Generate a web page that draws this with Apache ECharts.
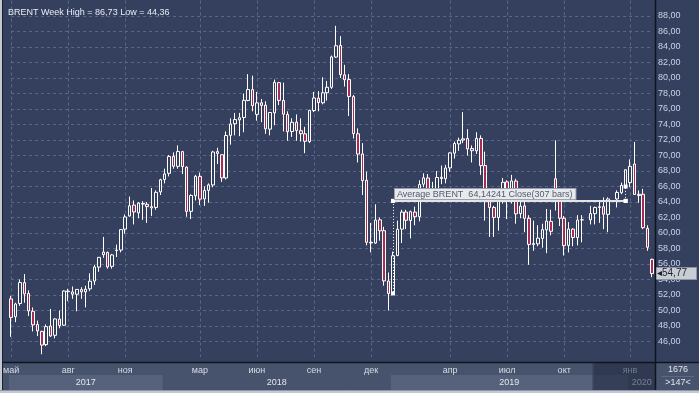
<!DOCTYPE html>
<html><head><meta charset="utf-8">
<script src="https://cdn.jsdelivr.net/npm/echarts@6/dist/echarts.min.js"></script>
<style>html,body{margin:0;padding:0;background:#34405d;}#c{width:699px;height:393px;}</style>
</head><body><div id="c"></div>
<script>
// ---- data (weekly bars, week start dates) ----
const weeks = [
'2017-05-01','2017-05-08','2017-05-15','2017-05-22','2017-05-29','2017-06-05','2017-06-12','2017-06-19','2017-06-26','2017-07-03',
'2017-07-10','2017-07-17','2017-07-24','2017-07-31','2017-08-07','2017-08-14','2017-08-21','2017-08-28','2017-09-04','2017-09-11',
'2017-09-18','2017-09-25','2017-10-02','2017-10-09','2017-10-16','2017-10-23','2017-10-30','2017-11-06','2017-11-13','2017-11-20',
'2017-11-27','2017-12-04','2017-12-11','2017-12-18','2017-12-25',
'2018-01-01','2018-01-08','2018-01-15','2018-01-22','2018-01-29','2018-02-05','2018-02-12','2018-02-19','2018-02-26','2018-03-05',
'2018-03-12','2018-03-19','2018-03-26','2018-04-02','2018-04-09','2018-04-16','2018-04-23','2018-04-30','2018-05-07','2018-05-14',
'2018-05-21','2018-05-28','2018-06-04','2018-06-11','2018-06-18','2018-06-25','2018-07-02','2018-07-09','2018-07-16','2018-07-23',
'2018-07-30','2018-08-06','2018-08-13','2018-08-20','2018-08-27','2018-09-03','2018-09-10','2018-09-17','2018-09-24','2018-10-01',
'2018-10-08','2018-10-15','2018-10-22','2018-10-29','2018-11-05','2018-11-12','2018-11-19','2018-11-26','2018-12-03','2018-12-10',
'2018-12-17','2018-12-24','2018-12-31',
'2019-01-07','2019-01-14','2019-01-21','2019-01-28','2019-02-04','2019-02-11','2019-02-18','2019-02-25','2019-03-04','2019-03-11',
'2019-03-18','2019-03-25','2019-04-01','2019-04-08','2019-04-15','2019-04-22','2019-04-29','2019-05-06','2019-05-13','2019-05-20',
'2019-05-27','2019-06-03','2019-06-10','2019-06-17','2019-06-24','2019-07-01','2019-07-08','2019-07-15','2019-07-22','2019-07-29',
'2019-08-05','2019-08-12','2019-08-19','2019-08-26','2019-09-02','2019-09-09','2019-09-16','2019-09-23','2019-09-30','2019-10-07',
'2019-10-14','2019-10-21','2019-10-28','2019-11-04','2019-11-11','2019-11-18','2019-11-25','2019-12-02','2019-12-09','2019-12-16',
'2019-12-23','2019-12-30',
'2020-01-06','2020-01-13','2020-01-20','2020-01-27','2020-02-03'
];
const opens = [
51.5,49.2,50.9,53.6,52.2,49.9,48.2,47.3,45.6,48.0, 46.8,48.9,48.1,52.5,52.4,52.1,52.7,52.4,52.8,53.8,
55.6,57.2,57.5,55.7,57.8,57.8,60.5,62.2,63.6,62.6, 63.8,63.7,63.4,63.3,65.3,
66.9,67.7,69.9,68.6,70.5,68.5,62.8,64.8,67.3,64.4, 65.5,66.2,70.5,70.1,67.1,72.6,74.1,74.6,74.9,77.1,
78.5,75.3,76.8,76.5,73.4,75.5,79.4,77.1,75.3,73.1, 74.3,73.2,72.8,71.8,75.8,77.4,76.8,78.1,78.8,82.7,
84.2,80.4,79.8,77.6,72.8,70.2,66.8,58.8,58.7,61.7, 60.3,53.8,52.2,
57.1,60.5,62.7,61.6,62.7,62.1,66.3,67.1,65.1,65.7, 67.2,67.0,68.4,70.3,71.5,72.0,72.2,70.9,70.6,72.2,
68.7,64.5,63.3,62.0,65.2,66.6,64.2,66.7,62.5,63.5, 61.9,58.5,58.6,59.3,60.4,61.5,67.0,64.3,61.9,58.4,
60.5,59.4,61.7,61.7,62.5,63.3,63.4,62.4,64.4,65.2, 66.1,66.5,
68.9,65.0,65.0,60.6,56.6
];
const highs = [
51.9,51.0,54.0,54.7,52.6,50.4,48.7,47.4,48.2,50.2, 49.0,50.0,52.6,52.8,53.1,52.7,53.0,53.2,54.8,55.9,
56.9,59.5,57.6,57.3,58.5,60.5,62.4,64.7,64.2,64.0, 64.1,64.0,65.8,65.5,67.0,
68.3,70.05,70.4,71.3,70.6,68.6,65.0,67.5,67.8,66.0, 66.4,70.6,71.0,70.1,73.1,74.8,75.5,75.5,78.0,80.5,
80.3,78.2,77.3,77.0,75.6,79.8,79.5,79.4,75.7,74.8, 75.3,74.8,73.7,75.9,78.2,78.3,80.1,79.6,82.9,86.73,
85.4,81.7,80.5,77.8,73.5,71.6,67.9,61.3,63.7,62.0, 60.8,54.9,57.6,
61.6,63.0,63.0,62.9,63.4,66.8,67.7,67.6,66.6,68.0, 68.7,68.8,70.4,71.8,72.3,75.6,73.4,71.3,73.0,72.6,
70.5,64.6,63.5,65.5,67.1,66.8,67.5,67.0,64.4,65.5, 62.3,61.6,61.0,61.2,63.1,63.0,71.95,65.0,62.2,61.4,
60.6,62.3,62.3,63.5,63.4,64.2,64.6,64.6,65.5,66.5, 68.2,69.5,
71.75,65.5,65.7,61.0,56.7
];
const lows = [
46.6,48.5,50.6,51.0,49.3,47.3,46.7,44.36,45.4,46.6, 46.4,47.7,48.0,51.2,51.5,49.9,51.5,50.4,52.5,53.3,
55.0,56.8,55.4,55.4,56.9,57.5,59.9,62.1,61.1,61.9, 61.7,61.3,62.2,63.0,64.9,
66.4,67.3,68.3,68.3,67.6,62.1,61.8,64.2,63.6,63.5, 63.9,65.9,68.9,66.6,66.9,71.4,72.6,72.5,73.0,77.0,
75.7,74.5,74.3,72.8,72.6,73.9,76.5,73.1,71.9,72.4, 71.9,71.8,70.3,71.6,75.6,75.7,76.6,77.1,78.6,82.6,
80.0,78.9,75.1,72.2,69.1,64.9,58.4,57.5,58.6,59.0, 53.2,50.0,52.0,
57.0,58.7,60.5,59.3,61.0,61.5,65.9,64.4,64.6,65.5, 66.3,66.4,67.9,69.6,70.6,71.6,70.0,69.1,70.2,67.5,
61.6,59.5,59.5,60.3,63.8,61.8,63.8,61.2,61.9,60.1, 55.9,57.7,58.3,58.1,57.4,59.7,62.9,60.9,57.1,57.5,
58.3,58.4,58.8,61.1,61.1,61.3,60.5,60.1,63.3,65.0, 65.9,65.9,
64.9,63.9,60.5,57.7,54.3
];
const closes = [
49.10,50.84,53.61,52.15,49.95,48.15,47.37,45.54,47.92,46.71, 48.91,48.06,52.52,52.42,52.10,52.72,52.41,52.75,53.78,55.62,
56.86,57.54,55.62,57.17,57.75,60.44,62.07,63.52,62.72,63.86, 63.73,63.40,63.23,65.25,66.87,
67.62,69.87,68.61,70.52,68.58,62.79,64.84,67.31,64.37,65.49, 66.21,70.45,70.27,67.11,72.58,74.06,74.64,74.87,77.12,78.51,
76.44,76.79,76.46,73.44,75.55,79.44,77.11,75.33,73.07,74.29, 73.21,72.81,71.83,75.82,77.42,76.83,78.09,78.80,82.72,84.16,
80.43,79.78,77.62,72.83,70.18,66.76,58.80,58.71,61.67,60.28, 53.82,52.20,57.06,
60.48,62.70,61.64,62.75,62.10,66.25,67.12,65.07,65.74,67.16, 67.03,68.39,70.34,71.55,71.97,72.15,70.85,70.62,72.21,68.69,
64.49,63.29,62.01,65.20,66.55,64.23,66.72,62.47,63.46,61.89, 58.53,58.64,59.34,60.43,61.54,60.22,64.28,61.91,58.37,60.51,
59.42,61.67,61.69,62.51,63.30,63.39,62.43,64.39,65.22,66.14, 68.16,68.60,
64.98,64.85,60.69,58.16,54.77
];
// the reference axis carries two more bar slots in Q4 2019 than calendar weeks; keep them as empty slots
const gapAfterWeeks = ['2019-10-28', '2019-12-02'];
// axis ticks / labels
const monthTickWeeks  = ['2017-05-01','2017-07-31','2017-10-30','2018-02-26','2018-05-28','2018-08-27','2018-11-26','2019-04-01','2019-07-01','2019-09-30','2019-12-30'];
const monthTickLabels = ['май','авг','ноя','мар','июн','сен','дек','апр','июл','окт','янв'];
const yearStartWeeks  = ['2017-05-01','2018-01-01','2018-12-31','2019-12-30'];
const yearLabels      = ['2017','2018','2019','2020'];
const titleText = 'BRENT Week High = 86,73 Low = 44,36';
const avgValue = 64.14241, avgBars = 307;
const avgStartWeek = '2018-12-31', avgStartPrice = 52.20;
const avgEndWeek = '2019-12-23', avgEndPrice = 66.0;
const lastPrice = 54.77;
const overlayStartWeek = '2019-11-11';
const infoTop = '1676', infoBottom = '>147<';

// ---- chart ----
const BG = '#34405e', GRID = '#5a668a', FONT = '"Liberation Sans", Arial, sans-serif';
const fmt = v => v.toFixed(2).replace('.', ',');
const monthSet = new Set(monthTickWeeks);
const slots = [], candles = [];
weeks.forEach((w, i) => {
  slots.push(w); candles.push([opens[i], closes[i], lows[i], highs[i]]);
  if (gapAfterWeeks.includes(w)) { slots.push('gap ' + w); candles.push('-'); }
});
const chart = echarts.init(document.getElementById('c'), null, {width: 699, height: 393});
chart.setOption({
  backgroundColor: BG,
  animation: false,
  textStyle: {fontFamily: FONT},
  title: {text: titleText, left: 3, top: 3, textStyle: {color: '#e8ecf3', fontSize: 9, fontWeight: 'normal', fontFamily: FONT}},
  grid: {left: 3, right: 47, top: 0.5, bottom: 36},
  xAxis: {
    type: 'category', data: slots, boundaryGap: false,
    axisLine: {show: false}, axisTick: {show: false},
    axisLabel: {interval: (i, v) => monthSet.has(v), formatter: v => monthTickLabels[monthTickWeeks.indexOf(v)],
      color: '#d6dce7', fontSize: 9, margin: 9, fontFamily: FONT},
    splitLine: {show: true, interval: (i, v) => monthSet.has(v), lineStyle: {color: GRID, type: [3, 3], width: 1}}
  },
  yAxis: {
    type: 'value', position: 'right', min: 44, max: 90, interval: 2,
    axisLine: {show: false}, axisTick: {show: false},
    axisLabel: {color: '#c9d3e6', fontSize: 9, margin: 6, showMinLabel: false, showMaxLabel: false, formatter: fmt, fontFamily: FONT},
    splitLine: {show: true, showMinLine: false, showMaxLine: false, lineStyle: {color: GRID, type: [3, 3], width: 1}}
  },
  series: [{
    type: 'candlestick', data: candles, barWidth: 3, clip: false,
    itemStyle: {color: BG, color0: '#ab2a52', borderColor: '#ffffff', borderColor0: '#ffffff', borderWidth: 1},
    markLine: {
      silent: true, animation: false, symbol: ['rect', 'rect'], symbolSize: 4, precision: 5,
      data: [
        [{coord: [avgStartWeek, avgValue], lineStyle: {color: '#e4e4e4', width: 2, type: 'solid'},
          label: {show: true, position: 'insideStartTop', distance: 2,
            formatter: 'Average BRENT  ' + avgValue.toFixed(5).replace('.', ',') + ' Close(' + avgBars + ' bars)',
            backgroundColor: '#e6e9ee', borderColor: '#9aa2b0', borderWidth: 1, color: '#555c66',
            fontSize: 9, padding: [1, 3, 0, 2], fontFamily: FONT}},
         {coord: [avgEndWeek, avgValue]}],
        [{coord: [avgStartWeek, avgValue], lineStyle: {color: '#ffffff', width: 1, type: [1, 2]}, label: {show: false}},
         {coord: [avgStartWeek, avgStartPrice]}],
        [{coord: [avgEndWeek, avgValue], lineStyle: {color: '#ffffff', width: 1, type: [1, 2]}, label: {show: false}},
         {coord: [avgEndWeek, avgEndPrice]}],
        {yAxis: lastPrice, symbol: 'none', lineStyle: {color: 'rgba(0,0,0,0)', width: 0},
          label: {show: true, position: 'end', distance: 4, formatter: '◂' + fmt(lastPrice),
            backgroundColor: '#c8ccd3', borderColor: '#8d95a3', borderWidth: 1, color: '#1d2230', fontSize: 10, padding: [1, 9, 0, 1], fontFamily: FONT}}
      ]
    }
  }]
});

// ---- decoration derived from axis positions ----
const xOf = w => chart.convertToPixel({xAxisIndex: 0}, w);
const step = xOf(slots[1]) - xOf(slots[0]);
const edgeOf = w => xOf(w) - step / 2;
const sepX = Math.floor(xOf(slots[slots.length - 1]) + step * 0.8) + 0.5;
const panelTop = 363, panelBot = 390, yearTop = 375;
const g = [];
g.push({type: 'rect', z: -1, shape: {x: 3, y: panelTop, width: 699 - 3, height: panelBot - panelTop}, style: {fill: '#47536d'}});
yearStartWeeks.forEach((w, i) => {
  const x0 = Math.max(5, edgeOf(w));
  const x1 = i + 1 < yearStartWeeks.length ? edgeOf(yearStartWeeks[i + 1]) : sepX;
  if (i % 2 === 0) g.push({type: 'rect', z: -1, shape: {x: x0, y: yearTop, width: x1 - x0, height: panelBot - yearTop}, style: {fill: '#56627c'}});
  g.push({type: 'text', z: 10, style: {text: yearLabels[i], x: (x0 + x1) / 2, y: 382.5, align: 'center', verticalAlign: 'middle', fill: '#e2e6ee', font: '9px ' + FONT}});
});
const ovX = edgeOf(overlayStartWeek);
g.push({type: 'rect', z: 50, shape: {x: ovX, y: panelTop, width: sepX - ovX, height: panelBot - panelTop}, style: {fill: 'rgba(28,36,58,0.55)'}});
g.push({type: 'line', z: 50, shape: {x1: ovX + 0.5, y1: panelTop, x2: ovX + 0.5, y2: panelBot}, style: {stroke: '#3c4760', lineWidth: 1}});
// frame lines
g.push({type: 'line', z: 60, shape: {x1: 0, y1: panelTop - 0.5, x2: 699, y2: panelTop - 0.5}, style: {stroke: '#0f141f', lineWidth: 1.5}});
g.push({type: 'line', z: 60, shape: {x1: sepX, y1: 0, x2: sepX, y2: panelBot}, style: {stroke: '#0f141f', lineWidth: 1.5}});
g.push({type: 'rect', z: 60, shape: {x: 0, y: 0, width: 2, height: 393}, style: {fill: '#c3c8d1'}});
g.push({type: 'line', z: 60, shape: {x1: 2.5, y1: 0, x2: 2.5, y2: panelBot}, style: {stroke: '#1a2030', lineWidth: 1}});
g.push({type: 'rect', z: 60, shape: {x: 0, y: panelBot, width: 699, height: 393 - panelBot}, style: {fill: '#c3c8d1'}});
g.push({type: 'line', z: 60, shape: {x1: 0, y1: panelBot + 0.5, x2: 699, y2: panelBot + 0.5}, style: {stroke: '#8d96a6', lineWidth: 1}});
// info box bottom right
g.push({type: 'line', z: 60, shape: {x1: sepX + 6, y1: 376.5, x2: 694, y2: 376.5}, style: {stroke: '#5e6a84', lineWidth: 1}});
g.push({type: 'text', z: 60, style: {text: infoTop, x: 678, y: 369.5, align: 'center', verticalAlign: 'middle', fill: '#e2e6ee', font: '9px ' + FONT}});
g.push({type: 'text', z: 60, style: {text: infoBottom, x: 678, y: 383, align: 'center', verticalAlign: 'middle', fill: '#e2e6ee', font: '9px ' + FONT}});
chart.setOption({graphic: g});
</script></body></html>
